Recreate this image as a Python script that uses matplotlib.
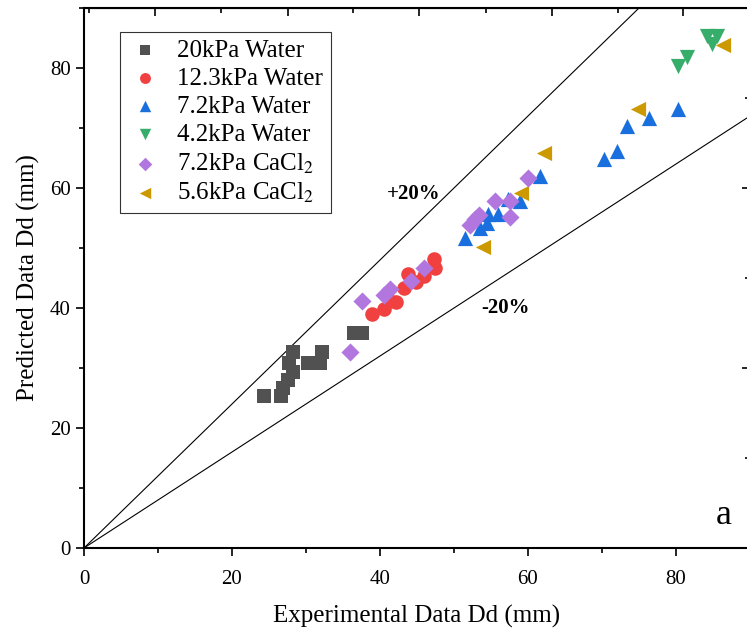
import matplotlib
matplotlib.use("Agg")
import matplotlib.pyplot as plt
import numpy as np

plt.rcParams['font.family'] = ['Liberation Serif', 'DejaVu Serif']
plt.rcParams['mathtext.fontset'] = 'stix'

# --- data (Experimental, Predicted) ---
w20_x = [24.3, 26.6, 26.9, 27.6, 28.2, 27.7, 30.3, 31.9, 28.2, 32.2, 36.5, 37.5]
w20_y = [25.4, 25.4, 26.7, 28.0, 29.4, 30.9, 30.9, 30.9, 32.7, 32.7, 35.9, 35.9]

w123_x = [38.9, 40.6, 41.4, 42.2, 43.2, 43.8, 44.9, 45.9, 47.3, 47.4]
w123_y = [39.0, 39.8, 41.1, 41.0, 43.4, 45.6, 44.4, 45.4, 48.1, 46.7]

w72_x = [51.5, 53.5, 54.5, 54.6, 56.0, 57.3, 58.9, 61.6, 70.3, 72.0, 73.4, 76.4, 80.3]
w72_y = [51.7, 53.4, 54.2, 55.6, 55.6, 58.1, 57.8, 62.0, 64.8, 66.2, 70.3, 71.7, 73.2]

w42_x = [80.3, 81.5, 84.2, 85.5, 84.8]
w42_y = [80.4, 81.8, 85.3, 85.3, 84.0]

ca72_x = [35.9, 37.5, 40.5, 41.4, 44.2, 45.9, 52.2, 52.8, 53.4, 55.5, 57.6, 57.6, 60.0]
ca72_y = [32.7, 41.1, 42.1, 43.2, 44.5, 46.7, 53.9, 54.8, 55.5, 57.8, 57.8, 55.2, 61.7]

ca56_x = [53.9, 59.0, 62.2, 74.9, 86.4]
ca56_y = [50.2, 59.2, 65.9, 73.2, 83.8]

fig = plt.figure(figsize=(7.47, 6.34), dpi=100)
ax = fig.add_axes([84 / 747, 86 / 634, 666 / 747, 540 / 634])

# +/-20% reference lines
line_x = np.array([0, 90])
ax.plot(line_x, 1.2 * line_x, color='black', lw=0.8, zorder=1)
ax.plot(line_x, 0.8 * line_x, color='black', lw=0.8, zorder=1)

ax.scatter(w20_x, w20_y, marker='s', s=100, color='#515151', lw=0, label='20kPa Water', zorder=3)
ax.scatter(w123_x, w123_y, marker='o', s=110, color='#F14040', lw=0, label='12.3kPa Water', zorder=3)
ax.scatter(w72_x, w72_y, marker='^', s=120, color='#1A6FDF', lw=0, label='7.2kPa Water', zorder=3)
ax.scatter(w42_x, w42_y, marker='v', s=120, color='#37AD6B', lw=0, label='4.2kPa Water', zorder=3)
ax.scatter(ca72_x, ca72_y, marker='D', s=85, color='#B177DE', lw=0, label='7.2kPa CaCl$_2$', zorder=4)
ax.scatter(ca56_x, ca56_y, marker='<', s=120, color='#CC9900', lw=0, label='5.6kPa CaCl$_2$', zorder=3)

ax.set_xlim(0, 90)
ax.set_ylim(0, 90)
ax.set_xticks([0, 20, 40, 60, 80])
ax.set_yticks([0, 20, 40, 60, 80])
ax.set_xticks([10, 30, 50, 70, 90], minor=True)
ax.set_yticks([10, 30, 50, 70, 90], minor=True)
ax.tick_params(which='both', direction='out', labelsize=15, width=1.2)
ax.tick_params(which='major', length=6)
ax.tick_params(which='minor', length=3.5)
ax.tick_params(axis='x', which='both', pad=10)
for sp in ax.spines.values():
    sp.set_linewidth(1.5)

# inward ticks on the top and right frame
top = ax.secondary_xaxis('top')
top.set_xticks([9.6, 27.5, 45.3, 63.2, 81.0], labels=[])
top.set_xticks([0.7, 18.5, 36.4, 54.3, 72.1], labels=[], minor=True)
top.tick_params(which='both', direction='in', width=1.2)
top.tick_params(which='major', length=6)
top.tick_params(which='minor', length=3.5)
right = ax.secondary_yaxis('right')
right.set_yticks([0, 30, 60, 90], labels=[])
right.set_yticks([15, 45, 75], labels=[], minor=True)
right.tick_params(which='both', direction='in', width=1.2)
right.tick_params(which='major', length=6)
right.tick_params(which='minor', length=3.5)

ax.set_xlabel('Experimental Data Dd (mm)', fontsize=18, labelpad=11)
ax.set_ylabel('Predicted Data Dd (mm)', fontsize=18, labelpad=7)

ax.text(44.5, 59, '+20%', fontsize=15, fontweight='bold', ha='center', va='center')
ax.text(57, 40, '-20%', fontsize=15, fontweight='bold', ha='center', va='center')
ax.text(86.5, 5.5, 'a', fontsize=26, ha='center', va='center')

leg = ax.legend(loc='upper left', bbox_to_anchor=(0.054, 0.956), borderaxespad=0,
                fontsize=18, frameon=True, fancybox=False, edgecolor='black',
                markerscale=0.75, handlelength=1.4, handletextpad=0.6,
                labelspacing=0.22, borderpad=0.3)
leg.get_frame().set_linewidth(0.8)

fig.savefig('out.png', dpi=100)
